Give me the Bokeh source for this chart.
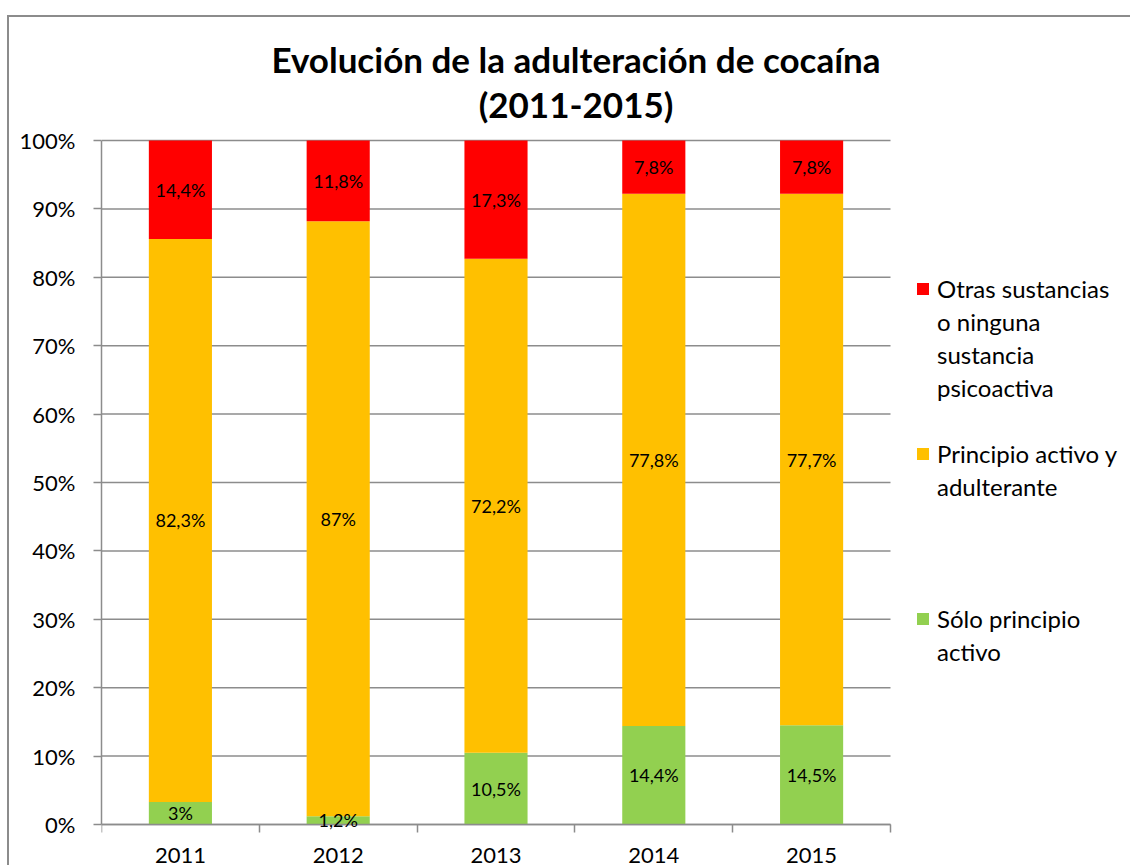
from bokeh.plotting import figure
from bokeh.models import (ColumnDataSource, FixedTicker, PrintfTickFormatter, Legend,
                          LegendItem, LabelSet, Label, Range1d)
from bokeh.core.properties import value
from bokeh.embed import file_html
from bokeh.resources import INLINE

# ---- data ----
years = ["2011", "2012", "2013", "2014", "2015"]
solo = [3.3, 1.2, 10.5, 14.4, 14.5]          # Sólo principio activo
mixto = [82.3, 87.0, 72.2, 77.8, 77.7]       # Principio activo y adulterante
otras = [14.4, 11.8, 17.3, 7.8, 7.8]         # Otras sustancias o ninguna sustancia psicoactiva
solo_lbl = ["3%", "1,2%", "10,5%", "14,4%", "14,5%"]
mixto_lbl = ["82,3%", "87%", "72,2%", "77,8%", "77,7%"]
otras_lbl = ["14,4%", "11,8%", "17,3%", "7,8%", "7,8%"]
# legend lines per series (top to bottom), with blank gap lines after each group
legend_lines = [["Otras sustancias", "o ninguna", "sustancia", "psicoactiva"],
                ["Principio activo y", "adulterante"],
                ["Sólo principio", "activo"]]
legend_gaps = [1, 3, 0]
colors = ["#92D050", "#FFC000", "#FF0000"]
y_ticks = [0, 10, 20, 30, 40, 50, 60, 70, 80, 90, 100]
title_lines = ["Evolución de la adulteración de cocaína", "(2011-2015)"]

FONT = "Lato"
GRAY = "#8C8C8C"

n = len(years)
xs = [i + 0.5 for i in range(n)]
src = ColumnDataSource(dict(x=xs, solo=solo, mixto=mixto, otras=otras))

# plot frame spans title, legend and axis-label areas too;
# the bars occupy 789 x 684 px of its 1029 x 865 px
x_end = n * 1029 / 789
y_start = -100 * 41 / 684
y_end = 100 * (684 + 140) / 684

p = figure(width=1130, height=865, output_backend="svg", toolbar_location=None,
           title=None, x_range=Range1d(0, x_end), y_range=Range1d(y_start, y_end),
           min_border_left=101, min_border_right=0, min_border_top=0,
           min_border_bottom=0,
           styles={"background":
                   "linear-gradient(#8C8C8C,#8C8C8C) 7px 15px / 2px 100% no-repeat, "
                   "linear-gradient(#8C8C8C,#8C8C8C) 7px 15px / 100% 2px no-repeat, white"})
p.outline_line_color = None
p.background_fill_alpha = 0
p.border_fill_alpha = 0
p.grid.visible = False

# horizontal gridlines limited to the bar area
p.segment(x0=[0] * len(y_ticks), x1=[n] * len(y_ticks), y0=y_ticks, y1=y_ticks,
          line_color=GRAY, line_width=1.5)

rs = p.vbar_stack(["solo", "mixto", "otras"], x="x", width=0.4, color=colors,
                  line_color=None, source=src)
blank = p.scatter(x=[], y=[], marker="square", fill_alpha=0, line_alpha=0)

# y axis
p.yaxis.bounds = (0, 100)
p.yaxis.ticker = FixedTicker(ticks=y_ticks)
p.yaxis.formatter = PrintfTickFormatter(format="%d%%")
p.yaxis.axis_line_color = GRAY
p.yaxis.axis_line_width = 1.5
p.yaxis.major_tick_line_color = GRAY
p.yaxis.major_tick_line_width = 1.5
p.yaxis.major_tick_out = 8
p.yaxis.major_tick_in = 0
p.yaxis.minor_tick_line_color = None
p.yaxis.major_label_text_font = FONT
p.yaxis.major_label_text_font_size = "22px"
p.yaxis.major_label_text_color = "black"
p.yaxis.major_label_standoff = 18

# x axis, placed at 0%
p.xaxis.fixed_location = 0
p.xaxis.bounds = (0, n)
p.xaxis.ticker = FixedTicker(ticks=xs, minor_ticks=list(range(n + 1)))
p.xaxis.major_label_overrides = {x: y for x, y in zip(xs, years)}
p.xaxis.axis_line_color = GRAY
p.xaxis.axis_line_width = 1.5
p.xaxis.major_tick_line_color = None
p.xaxis.major_tick_out = 8
p.xaxis.major_tick_in = 0
p.xaxis.minor_tick_line_color = GRAY
p.xaxis.minor_tick_line_width = 1.5
p.xaxis.minor_tick_out = 8
p.xaxis.minor_tick_in = 0
p.xaxis.major_label_text_font = FONT
p.xaxis.major_label_text_font_size = "22px"
p.xaxis.major_label_text_color = "black"
p.xaxis.major_label_standoff = 15

# value labels
bottoms = [0.0] * n
for vals, lbls in [(solo, solo_lbl), (mixto, mixto_lbl), (otras, otras_lbl)]:
    ys = [b + v / 2 for b, v in zip(bottoms, vals)]
    ls = ColumnDataSource(dict(x=xs, y=ys, t=lbls))
    p.add_layout(LabelSet(x="x", y="y", text="t", source=ls, text_align="center",
                          text_baseline="middle", text_font=value(FONT),
                          text_font_size=value("18px"), text_color="black"))
    bottoms = [b + v for b, v in zip(bottoms, vals)]

# legend, one item per text line
items = []
for lines, gap, r in zip(legend_lines, legend_gaps, reversed(rs)):
    items.append(LegendItem(label=lines[0], renderers=[r]))
    for ln in lines[1:]:
        items.append(LegendItem(label=ln, renderers=[blank]))
    for _ in range(gap):
        items.append(LegendItem(label=" ", renderers=[blank]))
lg = Legend(items=items, location=(814, 197), glyph_width=15, glyph_height=15,
            label_height=33, label_standoff=7, padding=0, margin=0, spacing=0,
            border_line_color=None, background_fill_alpha=0,
            label_text_font=FONT, label_text_font_size="24px",
            label_text_color="black")
p.add_layout(lg)

# title: two centred lines (screen units, measured from the frame's bottom-left)
for txt, ty in zip(title_lines, [807, 762]):
    p.add_layout(Label(x=474.5, y=ty, x_units="screen", y_units="screen", text=txt,
                       text_align="center", text_baseline="alphabetic",
                       text_font=FONT, text_font_style="bold",
                       text_font_size="35px", text_color="black"))

open("out.html", "w").write(file_html(p, INLINE))
